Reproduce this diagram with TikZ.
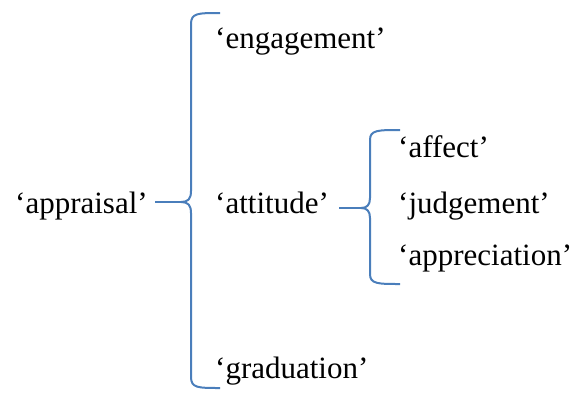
\documentclass[tikz,border=0pt]{standalone}
\usepackage{fontspec}
\setmainfont{Liberation Serif}
\definecolor{bracecol}{HTML}{4A7EBB}
\begin{document}
\begin{tikzpicture}[x=1pt,y=-1pt,
  lbl/.style={anchor=base west,inner sep=0pt,font=\fontsize{31}{37}\selectfont},
  bracepath/.style={draw=bracecol,line width=2pt,line join=round}]
\useasboundingbox (0,0) rectangle (574,392);
% labels
\node[lbl] (appraisal) at (15,213) {‘appraisal’};
\node[lbl] (engagement) at (215,48) {‘engagement’};
\node[lbl] (attitude) at (215,213) {‘attitude’};
\node[lbl] (graduation) at (215,378) {‘graduation’};
\node[lbl] (affect) at (398,157) {‘affect’};
\node[lbl] (judgement) at (398,213) {‘judgement’};
\node[lbl] (appreciation) at (398,265) {‘appreciation’};
% brace 1
\coordinate (b1tip) at (181,202);
\coordinate (b1in) at (155,202);
\draw[bracepath] (220,13) .. controls (198,13) and (191,13) .. (191,24)
  -- (191,191) .. controls (191,199) and (188,202) .. (b1tip)
  .. controls (188,202) and (191,205) .. (191,213)
  -- (191,377) .. controls (191,388) and (198,388) .. (220,388);
\draw[bracepath] (b1in) -- (b1tip);
% brace 2
\coordinate (b2tip) at (361,208);
\coordinate (b2in) at (339,208);
\draw[bracepath] (400,130) .. controls (378,130) and (370,130) .. (370,140)
  -- (370,198) .. controls (370,205) and (367,208) .. (b2tip)
  .. controls (367,208) and (370,211) .. (370,218)
  -- (370,274) .. controls (370,284) and (378,284) .. (400,284);
\draw[bracepath] (b2in) -- (b2tip);
\end{tikzpicture}
\end{document}
